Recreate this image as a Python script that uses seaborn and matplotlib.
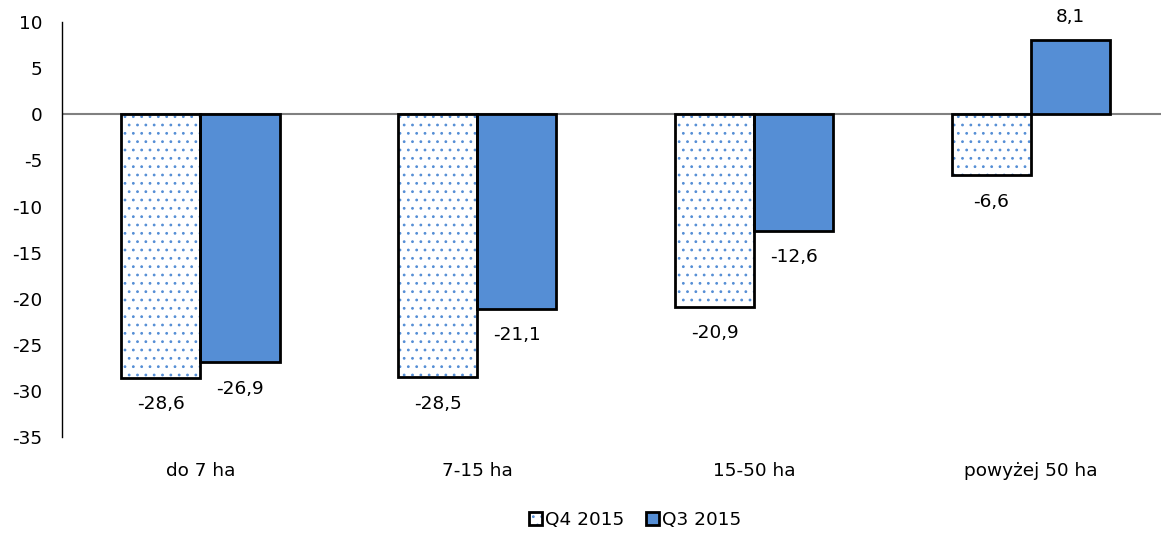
import matplotlib
matplotlib.use("Agg")
import matplotlib.pyplot as plt
import seaborn as sns
import pandas as pd
from matplotlib.patches import Rectangle, Patch

categories = ["do 7 ha", "7-15 ha", "15-50 ha", "powyżej 50 ha"]
series_names = ["Q4 2015", "Q3 2015"]
q4_values = [-28.6, -28.5, -20.9, -6.6]
q3_values = [-26.9, -21.1, -12.6, 8.1]
y_ticks = [10, 5, 0, -5, -10, -15, -20, -25, -30, -35]

BLUE = "#558ED5"
FS = 13.3

sns.set_style("white")
plt.rcParams["font.family"] = ["DejaVu Sans"]
plt.rcParams["font.size"] = FS
plt.rcParams["text.color"] = "black"
plt.rcParams["xtick.color"] = "black"
plt.rcParams["ytick.color"] = "black"
plt.rcParams["hatch.linewidth"] = 0.8

df = pd.DataFrame({
    "cat": categories * 2,
    "series": [series_names[0]] * 4 + [series_names[1]] * 4,
    "val": q4_values + q3_values,
})

fig = plt.figure(figsize=(11.61, 5.39), dpi=100)
ax = fig.add_axes([0.0534, 0.189, 0.9466, 0.770])

sns.barplot(data=df, x="cat", y="val", hue="series", order=categories,
            hue_order=series_names, palette=["white", BLUE], width=0.572,
            edgecolor="black", linewidth=2, saturation=1, legend=False, ax=ax)

q4_patches = ax.patches[:4]
q3_patches = ax.patches[4:8]
for p in q4_patches:
    p.set_hatch("..")
    p.set_edgecolor(BLUE)
    p.set_linewidth(0)
    ax.add_patch(Rectangle(p.get_xy(), p.get_width(), p.get_height(),
                           fill=False, edgecolor="black", linewidth=2, zorder=p.get_zorder() + 0.1))

ax.axhline(0, color="#808080", linewidth=1.5, zorder=0.5)

def fmt(v):
    return f"{v:.1f}".replace(".", ",")

for patches, vals in ((q4_patches, q4_values), (q3_patches, q3_values)):
    for p, v in zip(patches, vals):
        xc = p.get_x() + p.get_width() / 2
        off = -19 if v < 0 else 16.5
        ax.annotate(fmt(v), (xc, v), xytext=(0, off), textcoords="offset points",
                    ha="center", va="center", fontsize=FS, color="black")

ax.set_ylim(-35, 10)
ax.set_yticks(y_ticks)
ax.set_yticklabels([str(t) for t in y_ticks])
ax.set_xlim(-0.5, 3.47)
ax.set_xlabel("")
ax.set_ylabel("")
for s in ["top", "right", "bottom"]:
    ax.spines[s].set_visible(False)
ax.spines["left"].set_color("black")
ax.spines["left"].set_linewidth(1)
ax.tick_params(axis="both", length=0, labelsize=FS)
ax.tick_params(axis="y", pad=14)
ax.tick_params(axis="x", pad=18)

h_q4_fill = Patch(facecolor="white", edgecolor=BLUE, hatch="..", linewidth=0)
h_q4_edge = Patch(facecolor="none", edgecolor="black", linewidth=2)
h_q3 = Patch(facecolor=BLUE, edgecolor="black", linewidth=2)
leg = fig.legend(handles=[(h_q4_fill, h_q4_edge), h_q3], labels=series_names,
                 loc="center", bbox_to_anchor=(0.547, 0.035), ncol=2, frameon=False,
                 handlelength=0.7, handleheight=0.7, handletextpad=0.15, columnspacing=1.2,
                 fontsize=FS)

fig.savefig("out.png", dpi=100)
